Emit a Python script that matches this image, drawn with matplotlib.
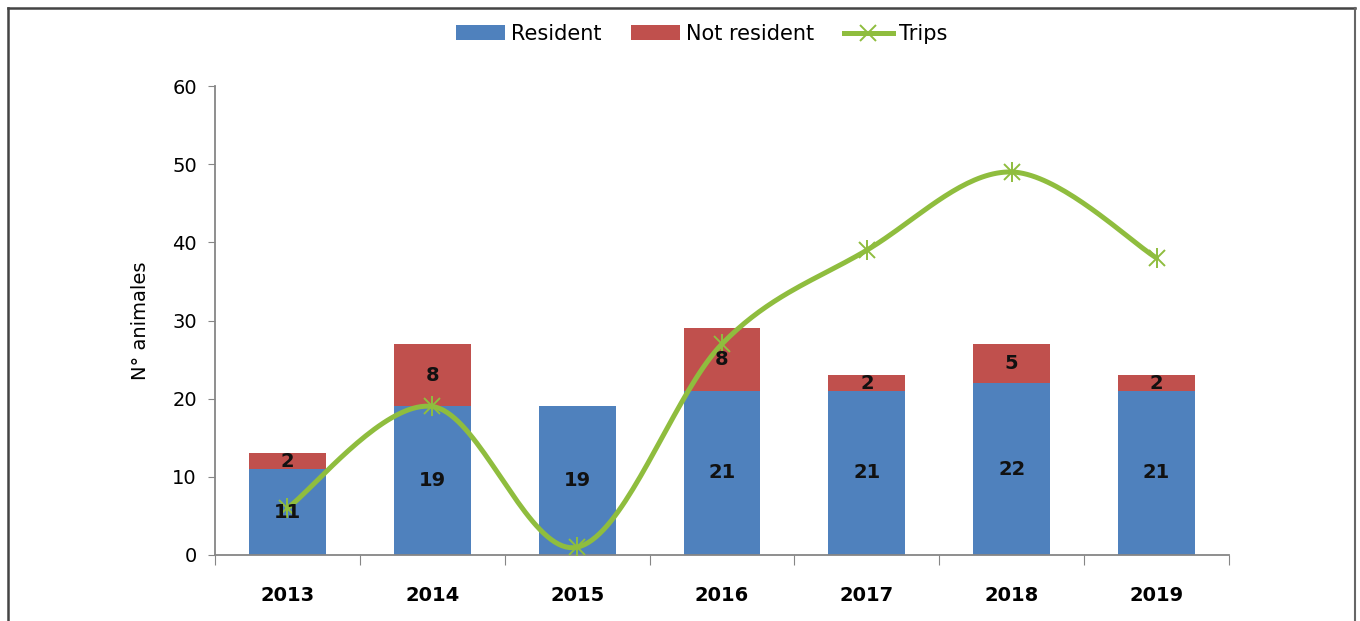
import matplotlib
matplotlib.use("Agg")
import matplotlib.pyplot as plt
import numpy as np
from matplotlib.lines import Line2D
from matplotlib.patches import Patch

years = ["2013", "2014", "2015", "2016", "2017", "2018", "2019"]
resident = [11, 19, 19, 21, 21, 22, 21]
not_resident = [2, 8, 0, 8, 2, 5, 2]
trips = [6, 19, 1, 27, 39, 49, 38]

BLUE = "#4F81BD"
RED = "#C0504D"
GREEN = "#8FBD3E"
AXC = "#868686"

fig = plt.figure(figsize=(13.6, 6.21), dpi=100)
ax = fig.add_axes([215/1360, 1-555/621, (1229-215)/1360, (555-86)/621])

x = np.arange(len(years))
w = 0.53
ax.bar(x, resident, w, color=BLUE, zorder=2)
ax.bar(x, not_resident, w, bottom=resident, color=RED, zorder=2)

for xi, r, n in zip(x, resident, not_resident):
    ax.text(xi, r/2, str(r), ha="center", va="center", fontsize=14, fontweight="bold", color="#111111", zorder=4)
    if n > 0:
        ax.text(xi, r + n/2, str(n), ha="center", va="center", fontsize=14, fontweight="bold", color="#111111", zorder=4)

# smooth curve (Catmull-Rom style Bezier, like Excel smoothing)
P = np.column_stack([x.astype(float), np.array(trips, float)])
n = len(P)
cx, cy = [], []
tt = np.linspace(0, 1, 40)
for i in range(n-1):
    p0 = P[i-1] if i > 0 else P[i]
    p1 = P[i]
    p2 = P[i+1]
    p3 = P[i+2] if i+2 < n else P[i+1]
    b1 = p1 + (p2 - p0)/6
    b2 = p2 - (p3 - p1)/6
    for t in tt:
        pt = (1-t)**3*p1 + 3*(1-t)**2*t*b1 + 3*(1-t)*t**2*b2 + t**3*p2
        cx.append(pt[0]); cy.append(pt[1])
ax.plot(cx, cy, color=GREEN, lw=3.6, zorder=3, solid_capstyle="round")
ax.plot(x, trips, linestyle="none", marker="x", ms=12, mew=1.4, color=GREEN, zorder=3)
ax.plot(x, trips, linestyle="none", marker="|", ms=15, mew=1.4, color=GREEN, zorder=3)

ax.set_xlim(-0.5, 6.5)
ax.set_ylim(0, 60)
ax.set_yticks(range(0, 61, 10))
ax.tick_params(axis="y", length=5, color=AXC, labelsize=14, pad=8)
ax.set_xticks(np.arange(-0.5, 7, 1))
ax.set_xticklabels([])
ax.tick_params(axis="x", which="major", length=7, color=AXC)
ax.set_xticks(x, minor=True)
ax.set_xticklabels(years, minor=True, fontsize=14, fontweight="bold")
ax.tick_params(axis="x", which="minor", length=0, pad=22)
for s in ["top", "right"]:
    ax.spines[s].set_visible(False)
for s in ["left", "bottom"]:
    ax.spines[s].set_color(AXC)
    ax.spines[s].set_linewidth(1.3)
ax.set_ylabel("N° animales", fontsize=14, labelpad=16)

handles = [Patch(facecolor=BLUE), Patch(facecolor=RED),
           Line2D([0], [0], color=GREEN, lw=3.6, marker="x", ms=11, mew=1.4)]
fig.legend(handles, ["Resident", "Not resident", "Trips"], loc="center",
           bbox_to_anchor=(0.516, 1-34/621), ncol=3, frameon=False, fontsize=15,
           handlelength=2.35, handleheight=0.7, columnspacing=1.4, handletextpad=0.3)

# outer frame
fig.add_artist(Line2D([8/1360, 8/1360], [0, 1-8/621], color="#444444", lw=1.8, transform=fig.transFigure))
fig.add_artist(Line2D([8/1360, 1355/1360], [1-8/621, 1-8/621], color="#444444", lw=1.8, transform=fig.transFigure))
fig.add_artist(Line2D([1355/1360, 1355/1360], [0, 1-8/621], color="#666666", lw=1.5, transform=fig.transFigure))

fig.savefig("out.png", dpi=100)
